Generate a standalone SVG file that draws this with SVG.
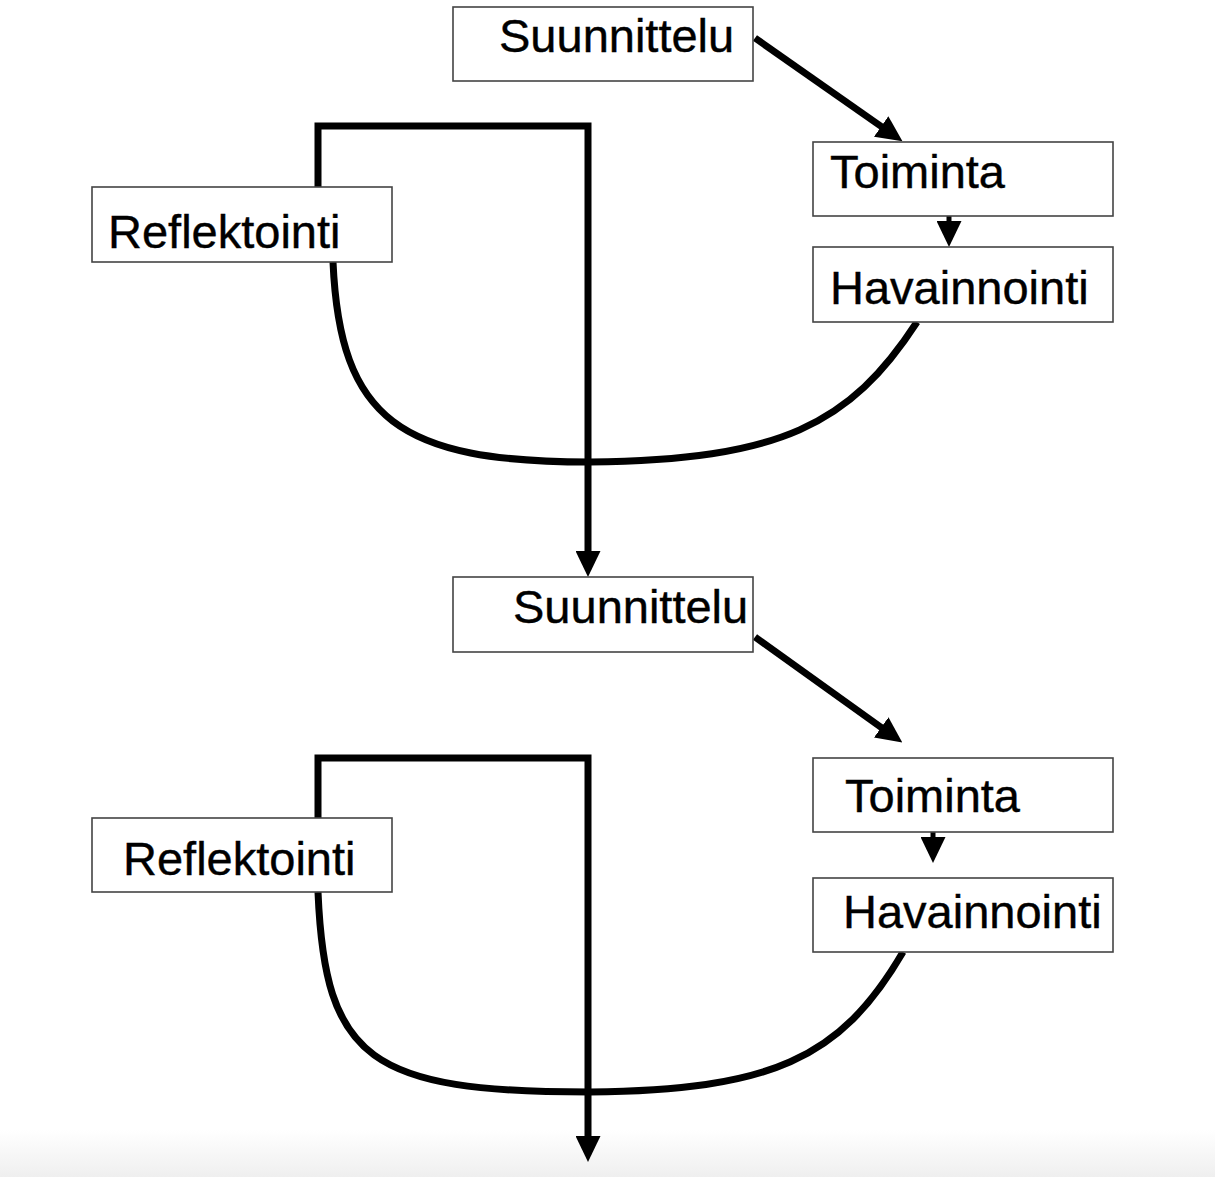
<svg xmlns="http://www.w3.org/2000/svg" width="1215" height="1177" viewBox="0 0 1215 1177">
<style>
.box{fill:#fff;stroke:#444;stroke-width:1.6}
.lbl{font-family:"Liberation Sans",Arial,sans-serif;font-size:47px;fill:#000;stroke:#000;stroke-width:0.4}
.con{fill:none;stroke:#000;stroke-width:7;stroke-linejoin:miter}
.thin{fill:none;stroke:#000;stroke-width:5}
</style>
<defs>
<linearGradient id="bg" x1="0" y1="0" x2="0" y2="1">
<stop offset="0" stop-color="#fff"/>
<stop offset="1" stop-color="#efefef"/>
</linearGradient>
<marker id="ah" markerUnits="userSpaceOnUse" markerWidth="26" markerHeight="25" refX="1" refY="12.5" orient="auto" viewBox="0 0 26 25">
<path d="M0,0 L26,12.5 L0,25 z" fill="#000"/>
</marker>
</defs>
<rect x="0" y="0" width="1215" height="1177" fill="#fff"/>
<rect x="0" y="1130" width="1215" height="47" fill="url(#bg)"/>
<g id="connectors">
<path class="con" d="M755,38 L882,127" marker-end="url(#ah)"/>
<path class="thin" d="M949,216 L949,222" marker-end="url(#ah)"/>
<path class="con" d="M318,187 V126 H588 V552" marker-end="url(#ah)"/>
<path class="con" d="M917,322 C850,425 780,460 590,462 C400,462 340,420 333,262"/>
<path class="con" d="M755,637 L882,728" marker-end="url(#ah)"/>
<path class="thin" d="M933,832 L933,838" marker-end="url(#ah)"/>
<path class="con" d="M318,818 V758 H588 V1137" marker-end="url(#ah)"/>
<path class="con" d="M903,952 C840,1060 770,1090 590,1092 C370,1092 325,1060 318,892"/>
</g>
<g id="s1"><rect class="box" x="453" y="7" width="300" height="74"/><text class="lbl" x="499" y="52">Suunnittelu</text></g>
<g id="t1"><rect class="box" x="813" y="142" width="300" height="74"/><text class="lbl" x="830" y="188">Toiminta</text></g>
<g id="h1"><rect class="box" x="813" y="247" width="300" height="75"/><text class="lbl" x="830" y="304">Havainnointi</text></g>
<g id="r1"><rect class="box" x="92" y="187" width="300" height="75"/><text class="lbl" x="108" y="248">Reflektointi</text></g>
<g id="s2"><rect class="box" x="453" y="577" width="300" height="75"/><text class="lbl" x="513" y="623">Suunnittelu</text></g>
<g id="t2"><rect class="box" x="813" y="758" width="300" height="74"/><text class="lbl" x="845" y="812">Toiminta</text></g>
<g id="h2"><rect class="box" x="813" y="878" width="300" height="74"/><text class="lbl" x="843" y="928">Havainnointi</text></g>
<g id="r2"><rect class="box" x="92" y="818" width="300" height="74"/><text class="lbl" x="123" y="875">Reflektointi</text></g>
</svg>
